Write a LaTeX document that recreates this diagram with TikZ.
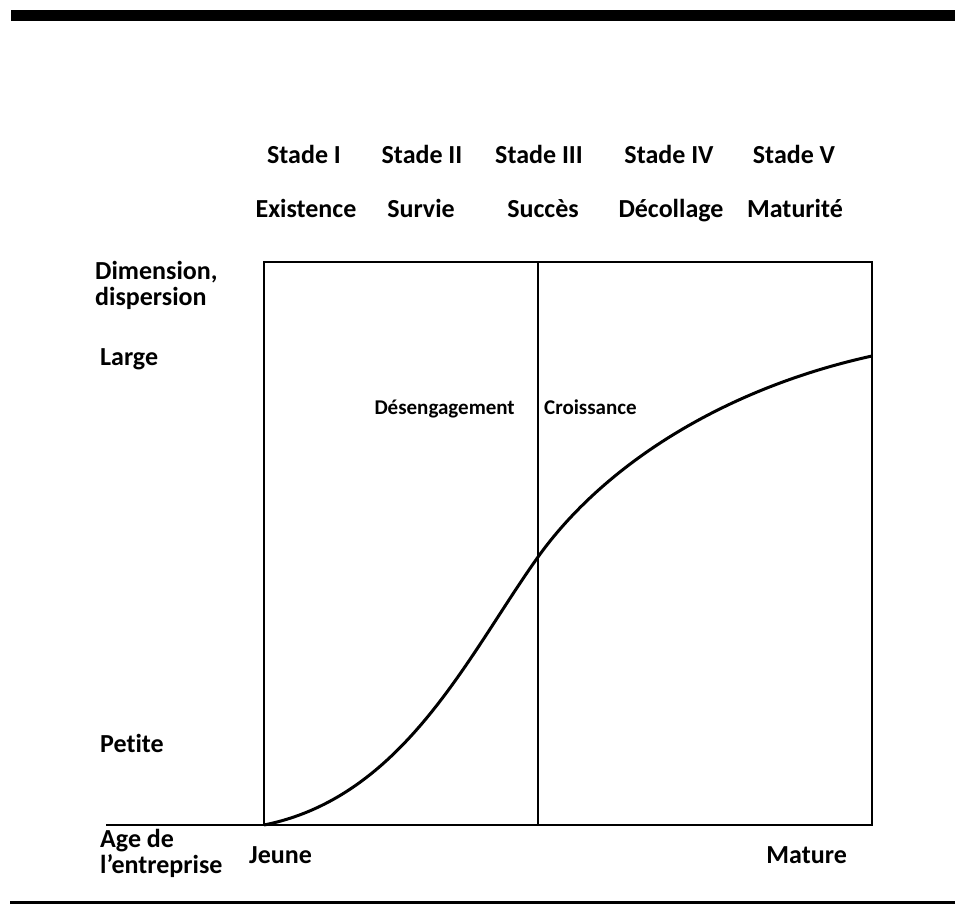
\documentclass[tikz,border=0pt]{standalone}
\usepackage{fontspec}
\setmainfont{Carlito}[Ligatures=NoCommon]
\begin{document}
\begin{tikzpicture}[x=1pt,y=-1pt,
  big/.style={font=\fontsize{26}{30}\selectfont\bfseries, inner sep=0pt},
  small/.style={font=\fontsize{21}{25}\selectfont\bfseries, inner sep=0pt},
  frame/.style={line width=1.5pt}]
  \useasboundingbox (0,0) rectangle (955,904);
  % bars
  \fill (11,10) rectangle (955,21);
  \fill (10,901) rectangle (955,904);
  % box
  \coordinate (bl) at (264,825);
  \coordinate (tr) at (872,262);
  \coordinate (midtop) at (538,262);
  \coordinate (midbot) at (538,825);
  \coordinate (axis) at (106,825);
  \coordinate (mid) at (538,557);
  \coordinate (end) at (872,356);
  \draw[frame] (bl) rectangle (tr);
  \draw[frame] (midtop) -- (midbot);
  \draw[frame] (axis) -- (bl);
  % curve
  \draw[line width=3pt] (bl) .. controls (404,797) and (468,655) .. (mid)
    .. controls (603,466) and (722,389) .. (end);
  % stages
  \node[big, anchor=base] (s1) at (304,164) {Stade I};
  \node[big, anchor=base] (s2) at (422,164) {Stade II};
  \node[big, anchor=base] (s3) at (539,164) {Stade III};
  \node[big, anchor=base] (s4) at (669,164) {Stade IV};
  \node[big, anchor=base] (s5) at (794,164) {Stade V};
  \node[big, anchor=base] (n1) at (306,218) {Existence};
  \node[big, anchor=base] (n2) at (421,218) {Survie};
  \node[big, anchor=base] (n3) at (543,218) {Succès};
  \node[big, anchor=base] (n4) at (671,218) {Décollage};
  \node[big, anchor=base] (n5) at (795,218) {Maturité};
  % y axis labels
  \node[big, anchor=base west] (dim) at (95,279) {Dimension,};
  \node[big, anchor=base west] (disp) at (95,305) {dispersion};
  \node[big, anchor=base west] (large) at (100,365) {Large};
  \node[big, anchor=base west] (petite) at (100,752) {Petite};
  % x axis labels
  \node[big, anchor=base west] (age) at (100,847) {Age de};
  \node[big, anchor=base west] (entr) at (100,873) {l’entreprise};
  \node[big, anchor=base west] (jeune) at (249,863) {Jeune};
  \node[big, anchor=base east] (mature) at (847,863) {Mature};
  % inner labels
  \node[small, anchor=base east] (deseng) at (515,414) {Désengagement};
  \node[small, anchor=base west] (crois) at (544,414) {Croissance};
\end{tikzpicture}
\end{document}
